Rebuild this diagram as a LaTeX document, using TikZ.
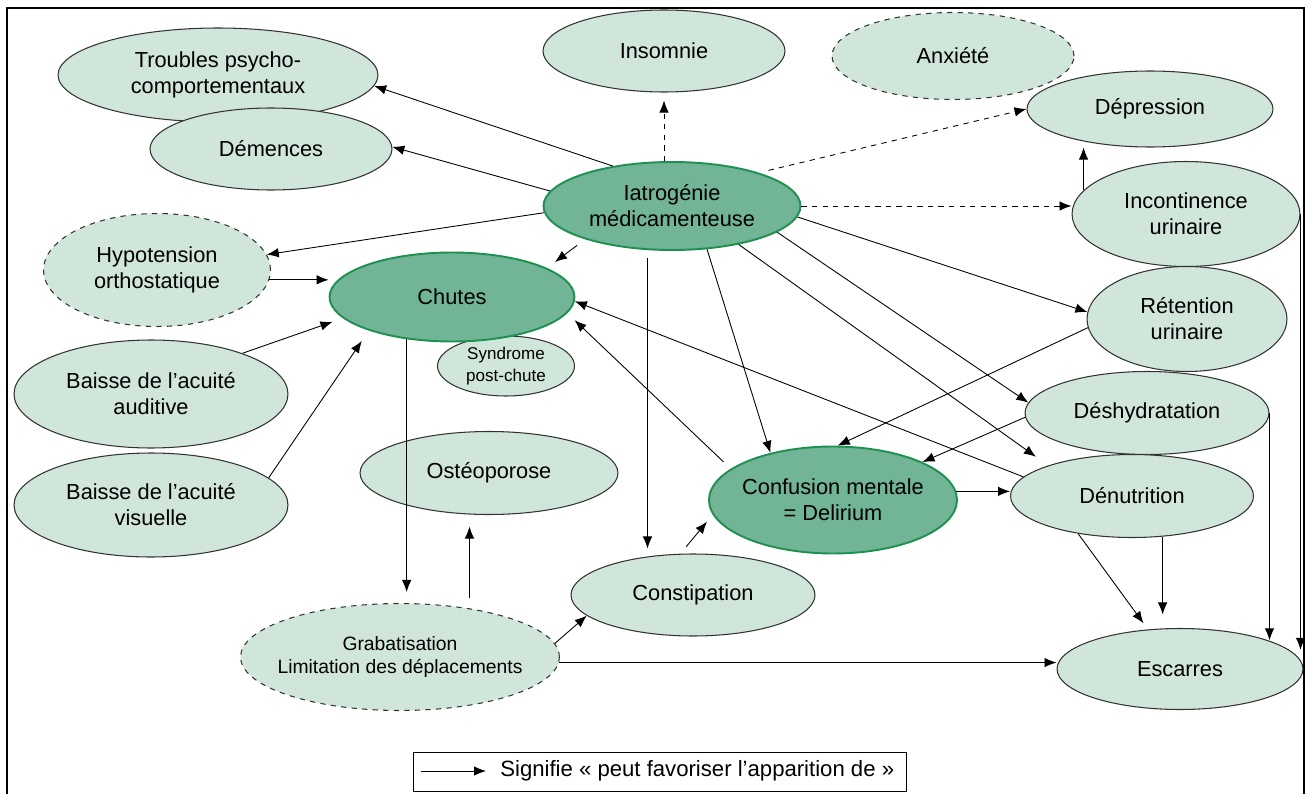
\documentclass[tikz,border=0pt]{standalone}
\usepackage{fontspec}
\setmainfont{Liberation Sans}
\usepackage{tikz}
\usetikzlibrary{shapes.geometric}
\usetikzlibrary{shapes,arrows.meta,positioning,calc}
\definecolor{celadon}{RGB}{208,230,218}
\definecolor{oceangreen}{RGB}{114,180,150}
\definecolor{jade}{RGB}{30,145,80}

\begin{document}
\begin{tikzpicture}[x=0.02cm, y=-0.02cm,
        pale/.style={ellipse, draw=black!80, fill=celadon, line width=0.6pt, inner xsep=-4mm, inner ysep=-2mm, align=center, font=\fontsize{12.4}{14.8}\selectfont},
        deep/.style={pale, draw=jade, fill=oceangreen, line width=1.1pt},
        maybe/.style={pale, dashed},
        arr/.style={-{Latex[length=2.4mm,width=1.9mm]}, line width=0.5pt}]

        \useasboundingbox (0,0) rectangle (1312,794);
        \draw[line width=1.1pt] (7,794) -- (7,8) -- (1304,8) -- (1304,794);

            \node[pale, minimum width=6.4cm, minimum height=1.88cm] (troubles) at (218,75) {Troubles psycho-\\comportementaux};
            \node[pale, minimum width=4.84cm, minimum height=1.64cm] (demences) at (271,149) {Démences};
            \node[pale, minimum width=4.84cm, minimum height=1.64cm] (insomnie) at (664,51) {Insomnie};
            \node[maybe, minimum width=4.84cm, minimum height=1.74cm] (anxiete) at (953,56) {Anxiété};
            \node[pale, minimum width=4.92cm, minimum height=1.52cm] (depression) at (1150,109) {Dépression};
            \node[deep, minimum width=5.14cm, minimum height=1.76cm] (iatro) at (672,206) {Iatrogénie\\médicamenteuse};
            \node[pale, minimum width=4.56cm, minimum height=2.1cm] (incont) at (1186,214) {Incontinence\\urinaire};
            \node[pale, minimum width=4.0cm, minimum height=2.1cm] (retention) at (1187,319) {Rétention\\urinaire};
            \node[maybe, minimum width=4.54cm, minimum height=2.26cm] (hypo) at (157,270) {Hypotension\\orthostatique};
            \node[pale, minimum width=2.74cm, minimum height=1.2cm, font=\fontsize{9.7}{12.4}\selectfont] (syndrome) at (506,366) {Syndrome\\post-chute};
            \node[deep, minimum width=4.9cm, minimum height=1.78cm] (chutes) at (452,297) {Chutes};
            \node[pale, minimum width=5.48cm, minimum height=2.16cm] (auditive) at (151,394) {Baisse de l’acuité\\auditive};
            \node[pale, minimum width=4.88cm, minimum height=1.66cm] (deshydr) at (1147,413) {Déshydratation};
            \node[pale, minimum width=5.16cm, minimum height=1.66cm] (osteo) at (489,473) {Ostéoporose};
            \node[pale, minimum width=5.48cm, minimum height=2.08cm] (visuelle) at (151,505) {Baisse de l’acuité\\visuelle};
            \node[deep, minimum width=4.96cm, minimum height=2.14cm] (confusion) at (833,500) {Confusion mentale\\= Delirium};
            \node[pale, minimum width=4.86cm, minimum height=1.66cm] (denutr) at (1132,496) {Dénutrition};
            \node[pale, minimum width=4.88cm, minimum height=1.64cm] (constip) at (693,595) {Constipation};
            \node[maybe, minimum width=6.38cm, minimum height=2.14cm, font=\fontsize{11}{13.6}\selectfont] (grabat) at (400,657) {Grabatisation\\Limitation des déplacements};
            \node[pale, minimum width=4.92cm, minimum height=1.62cm] (escarres) at (1180,669) {Escarres};

            % iatrogenie
            \draw[arr] (iatro.146) -- (troubles.-4);
            \draw[arr] (iatro.173) -- (demences.1);
            \draw[arr] (iatro.183) -- (hypo.8);
            \draw[arr, shorten <=2mm, shorten >=2mm] (iatro.201) -- (chutes.17);
            \draw[arr, dashed, shorten >=1.6mm] (insomnie.south |- iatro.north) -- (insomnie.south);
            \draw[arr, dashed, shorten <=2mm] (iatro.21) -- (depression.180);
            \draw[arr, dashed] (iatro.east) -- (iatro.east -| incont.west);
            \draw[arr] (iatro.-5) -- (retention.176);
            \draw[arr] (iatro.-14) -- (deshydr.175);
            \draw[arr, shorten >=3mm] (iatro.-30) -- (denutr.160);
            \draw[arr] (iatro.-51) -- (confusion.143);
            \draw[arr, shorten <=1.6mm, shorten >=1mm] (iatro.241) -- (iatro.241 |- constip.north);

            % right column
            \draw[arr] (incont.167) -- (incont.167 |- depression.south);
            \draw[arr] (incont.east) -- (incont.east |- escarres.10);
            \draw[arr] (deshydr.east) -- (deshydr.east |- escarres.18);
            \draw[arr, shorten >=2.7mm] (denutr.-53) -- (denutr.-53 |- escarres.north);
            \draw[arr, shorten >=1.5mm] (denutr.215) -- (escarres.129);
            \draw[arr] (retention.185) -- (confusion.85);
            \draw[arr] (deshydr.182) -- (confusion.23);
            \draw[arr] (denutr.170) -- (chutes.-2);
            \draw[arr, shorten <=2mm, shorten >=2mm] (confusion.163) -- (chutes.-8);
            \draw[arr] (confusion.4) -- (confusion.4 -| denutr.west);
            \draw[arr, shorten <=1.8mm, shorten >=1.8mm] (constip.107) -- (confusion.187);

            % left side
            \draw[arr] (hypo.-5) -- (hypo.-5 -| chutes.west);
            \draw[arr, shorten >=2.2mm] (auditive.24) -- (chutes.191);
            \draw[arr, shorten >=2.5mm] (visuelle.13) -- (chutes.202);
            \draw[arr, shorten >=2.2mm] (chutes.223) -- (chutes.223 |- grabat.north);
            \draw[arr, shorten <=2mm, shorten >=2.3mm] (grabat.35) -- (grabat.35 |- osteo.south);
            \draw[arr] (grabat.5) -- (constip.191);
            \draw[arr] (grabat.-2) -- (grabat.-2 -| escarres.west);

            % legend
            \node[draw, line width=0.6pt, minimum width=9.88cm, minimum height=0.78cm] (legend) at (660,772) {};
            \coordinate (legA) at (421,771);
            \coordinate (legB) at (486,771);
            \draw[arr] (legA) -- (legB);
            \node[anchor=west, inner sep=0pt, font=\fontsize{12.6}{15}\selectfont] (legtext) at (500,771) {Signifie « peut favoriser l’apparition de »};

\end{tikzpicture}
\end{document}
